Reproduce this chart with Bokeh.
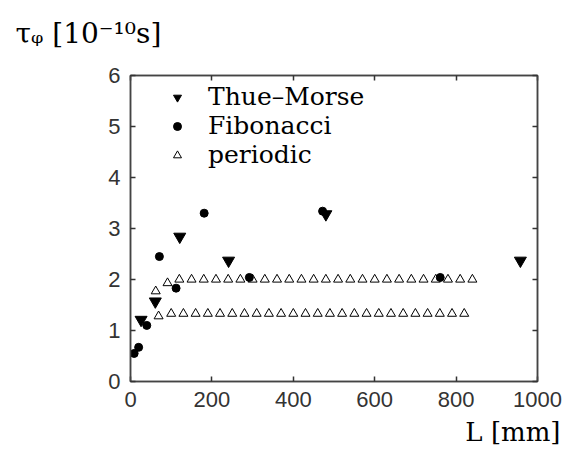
from bokeh.plotting import figure
from bokeh.models import (ColumnDataSource, Title, Legend, LegendItem, LinearAxis,
                          FixedTicker, Range1d)
from bokeh.embed import file_html
from bokeh.resources import INLINE

# ---------------- data ----------------
tm_L = [26, 61, 121, 241, 480, 958]
tm_tau = [1.21, 1.57, 2.84, 2.37, 3.28, 2.37]

fib_L = [9, 20, 40, 71, 112, 181, 292, 472, 761]
fib_tau = [0.55, 0.67, 1.10, 2.45, 1.83, 3.30, 2.04, 3.34, 2.04]

per_upper_L = [62, 91, 120, 150, 180, 210, 240, 270, 300, 330, 360, 390, 420, 450,
               480, 510, 540, 570, 600, 630, 660, 690, 720, 750, 780, 810, 840]
per_upper_tau = [1.77, 1.93, 2.0, 2.0, 2.0, 2.0, 2.0, 2.0, 2.0, 2.0, 2.0, 2.0, 2.0, 2.0,
                 2.0, 2.0, 2.0, 2.0, 2.0, 2.0, 2.0, 2.0, 2.0, 2.0, 2.0, 2.0, 2.0]
per_lower_L = [69, 100, 130, 160, 190, 220, 250, 280, 310, 340, 370, 400, 430, 460,
               490, 520, 550, 580, 610, 640, 670, 700, 730, 760, 790, 820]
per_lower_tau = [1.28, 1.33, 1.33, 1.33, 1.33, 1.33, 1.33, 1.33, 1.33, 1.33, 1.33, 1.33,
                 1.33, 1.33, 1.33, 1.33, 1.33, 1.33, 1.33, 1.33, 1.33, 1.33, 1.33, 1.33,
                 1.33, 1.33]

x_ticks = [0, 200, 400, 600, 800, 1000]
y_ticks = [0, 1, 2, 3, 4, 5, 6]
legend_labels = ["Thue\u2013Morse", "Fibonacci", "periodic"]
x_title = "L [mm]"
y_title = "\u03c4\u1d69 [10\u207b\u00b9\u2070s]"

# ---------------- figure ----------------
p = figure(width=577, height=455, output_backend="svg", toolbar_location=None,
           x_range=Range1d(0, 1000), y_range=Range1d(0, 6),
           min_border_left=130, min_border_right=40, min_border_top=75,
           min_border_bottom=74, x_axis_location=None, y_axis_location=None)
p.title = None
p.grid.visible = False
p.outline_line_color = "#444444"
p.outline_line_width = 1.5
p.background_fill_color = "white"
p.border_fill_color = "white"

tick_font = "Liberation Sans"

def make_axis(ticks, show_labels):
    ax = LinearAxis(ticker=FixedTicker(ticks=ticks))
    ax.axis_line_color = "#444444"
    ax.axis_line_width = 1.5
    ax.major_tick_in = 5
    ax.major_tick_out = 0
    ax.major_tick_line_color = "#333333"
    ax.major_tick_line_width = 1.5
    ax.minor_tick_line_color = None
    ax.major_label_text_font = tick_font
    ax.major_label_text_font_size = "22px"
    ax.major_label_text_color = "#333333"
    ax.major_label_standoff = 10
    if not show_labels:
        ax.major_label_text_alpha = 0
        ax.major_label_text_font_size = "1px"
        ax.major_label_standoff = 0
    return ax

p.add_layout(make_axis(x_ticks, True), "below")
p.add_layout(make_axis(y_ticks, True), "left")
p.add_layout(make_axis(x_ticks, False), "above")
p.add_layout(make_axis(y_ticks, False), "right")

per_src = ColumnDataSource(dict(x=per_upper_L + per_lower_L,
                                y=per_upper_tau + per_lower_tau))
r_per = p.scatter("x", "y", source=per_src, marker="triangle", size=9,
                  fill_color="white", line_color="black", line_width=1)
r_fib = p.scatter(fib_L, fib_tau, marker="circle", size=8,
                  fill_color="black", line_color="black")
r_tm = p.scatter(tm_L, tm_tau, marker="inverted_triangle", size=12,
                 fill_color="black", line_color="black")

legend = Legend(items=[LegendItem(label=legend_labels[0], renderers=[r_tm]),
                       LegendItem(label=legend_labels[1], renderers=[r_fib]),
                       LegendItem(label=legend_labels[2], renderers=[r_per])],
                location=(37, 212), padding=5, margin=0, spacing=0,
                glyph_width=20, glyph_height=20, label_standoff=21,
                label_text_font="DejaVu Serif", label_text_font_size="25px",
                label_text_color="black",
                border_line_color=None, background_fill_alpha=0)
p.add_layout(legend, "center")

serif = "DejaVu Serif"
p.add_layout(Title(text=x_title, align="right", offset=-23, standoff=10,
                   text_font=serif, text_font_size="26px",
                   text_font_style="normal", text_color="black"), "below")
# spacer between the top axis and the y title
p.add_layout(Title(text="\u00a0", align="left", text_font_size="8px",
                   text_color="white"), "above")
p.add_layout(Title(text=y_title, align="left", offset=-115, standoff=10,
                   text_font=serif, text_font_size="28px",
                   text_font_style="normal", text_color="black"), "above")

open("out.html", "w").write(file_html(p, INLINE))
